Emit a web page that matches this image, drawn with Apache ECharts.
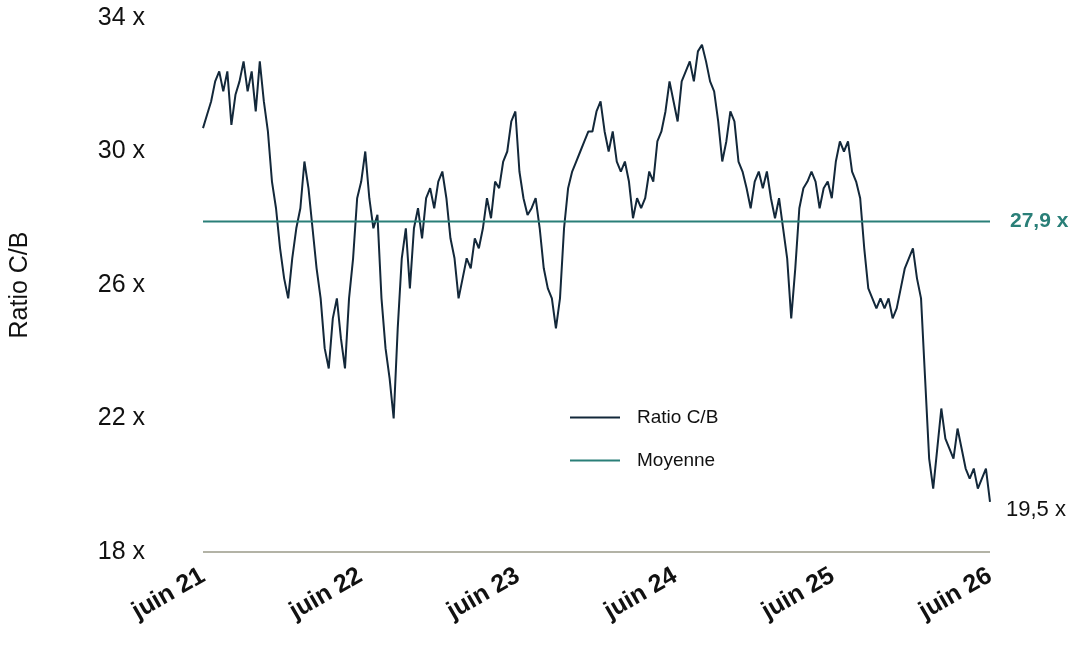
<!DOCTYPE html>
<html>
<head>
<meta charset="utf-8">
<script src="https://cdn.jsdelivr.net/npm/echarts@6/dist/echarts.min.js"></script>
<style>html,body{margin:0;padding:0;background:#fff}#chart{width:1080px;height:647px}</style>
</head>
<body>
<div id="chart"></div>
<script>
// valeurs (juin 21 -> juin 26)
var ratioValues = [30.7,31.1,31.5,32.1,32.4,31.8,32.4,30.8,31.7,32.1,32.7,31.8,32.4,31.2,32.7,31.5,30.6,29.1,28.3,27.1,26.2,25.6,26.8,27.7,28.3,29.7,28.9,27.7,26.5,25.6,24.1,23.5,25,25.6,24.4,23.5,25.6,26.8,28.6,29.1,30,28.6,27.7,28.1,25.6,24.1,23.2,22,24.7,26.8,27.7,25.9,27.7,28.3,27.4,28.6,28.9,28.3,29.1,29.4,28.6,27.4,26.8,25.6,26.2,26.8,26.5,27.4,27.1,27.7,28.6,28,29.1,28.9,29.7,30,30.9,31.2,29.4,28.6,28.1,28.3,28.6,27.7,26.5,25.9,25.6,24.7,25.6,27.7,28.9,29.4,29.7,30,30.3,30.6,30.6,31.2,31.5,30.6,30,30.6,29.7,29.4,29.7,29.1,28,28.6,28.3,28.6,29.4,29.1,30.3,30.6,31.2,32.1,31.5,30.9,32.1,32.4,32.7,32.1,33,33.2,32.7,32.1,31.8,30.9,29.7,30.3,31.2,30.9,29.7,29.4,28.9,28.3,29.1,29.4,28.9,29.4,28.6,28,28.6,27.7,26.8,25,26.5,28.3,28.9,29.1,29.4,29.1,28.3,28.9,29.1,28.6,29.7,30.3,30,30.3,29.4,29.1,28.6,27.1,25.9,25.6,25.3,25.6,25.3,25.6,25,25.3,25.9,26.5,26.8,27.1,26.2,25.6,23.2,20.8,19.9,21.1,22.3,21.4,21.1,20.8,21.7,21.1,20.5,20.2,20.5,19.9,20.2,20.5,19.5];
var xLabels = ['juin 21','juin 22','juin 23','juin 24','juin 25','juin 26'];
var yTicks = [18,22,26,30,34];
var meanValue = 27.9;

var seriesData = [];
for (var i = 0; i < ratioValues.length; i++) {
	seriesData.push([i * 60 / (ratioValues.length - 1), ratioValues[i]]);
}

var font = 'Liberation Sans, Arial, sans-serif';
var chart = echarts.init(document.getElementById('chart'));
chart.setOption({
	animation: false,
	textStyle: {fontFamily: font},
	grid: {left: 203, right: 90, top: 18, bottom: 95, containLabel: false, outerBoundsMode: 'none'},
	legend: {
		orient: 'vertical', left: 565, top: 403, itemGap: 24,
		itemWidth: 50, itemHeight: 2, icon: 'rect',
		textStyle: {fontSize: 19, color: '#111', padding: [0, 0, 0, 12]},
		data: ['Ratio C/B', 'Moyenne']
	},
	xAxis: {
		type: 'value', min: 0, max: 60, interval: 12,
		axisLine: {show: false}, axisTick: {show: false}, splitLine: {show: false},
		axisLabel: {
			rotate: 30, fontSize: 25, fontWeight: 'bold', color: '#111', margin: 22,
			formatter: function(v){ return xLabels[v / 12]; }
		}
	},
	yAxis: {
		type: 'value', min: 18, max: 34, interval: 4,
		name: 'Ratio C/B', nameLocation: 'middle', nameGap: 170, nameRotate: 90,
		nameTextStyle: {fontSize: 25, color: '#111'},
		axisLine: {show: false}, axisTick: {show: false}, splitLine: {show: false},
		axisLabel: {fontSize: 25, color: '#111', margin: 58, formatter: '{value} x'}
	},
	series: [{
		name: 'Ratio C/B', type: 'line', data: seriesData, symbol: 'none',
		lineStyle: {color: '#13283a', width: 2}, itemStyle: {color: '#13283a'},
		endLabel: {show: true, formatter: '19,5 x', fontSize: 22, color: '#111', offset: [8, 8]},
		markLine: {
			silent: true, symbol: 'none',
			data: [{yAxis: 18, lineStyle: {color: '#b3b3a6', width: 2, type: 'solid'}, label: {show: false}}]
		}
	}, {
		name: 'Moyenne', type: 'line', symbol: 'none',
		data: [[0, meanValue], [60, meanValue]],
		lineStyle: {color: '#2a7f78', width: 2}, itemStyle: {color: '#2a7f78'},
		endLabel: {show: true, formatter: '27,9 x', fontSize: 21, fontWeight: 'bold', color: '#2a7f78', offset: [12, 0]}
	}]
});
</script>
</body>
</html>
